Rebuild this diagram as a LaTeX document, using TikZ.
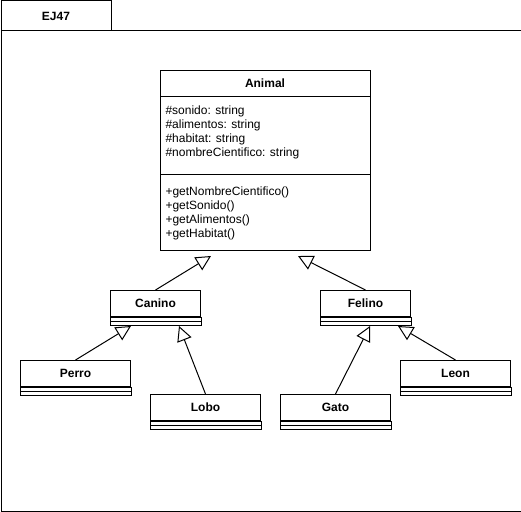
\documentclass[tikz,border=0pt]{standalone}
\usepackage{fontspec}
\setmainfont{Liberation Sans}
\usepackage{tikz}
\usetikzlibrary{%
	arrows.meta,%
	positioning
}

\newcommand{\umlfont}{\fontsize{12}{14}\selectfont}

\tikzset{
	classhead/.style={draw, minimum height=26pt, inner sep=0pt, anchor=north west, font=\umlfont\bfseries},
	classtext/.style={inner sep=0pt, anchor=north west, align=left, font=\umlfont},
	extends/.style={-{Triangle[open, length=15pt, width=15pt]}}
}

\begin{document}
\begin{tikzpicture}[x=1pt, y=-1pt, line width=1pt]
			\useasboundingbox (0,0) rectangle (521,511);
			
			% Draw the package frame with its tab
			\node[draw, minimum width=110pt, minimum height=30pt, inner sep=0pt, anchor=north west, font=\umlfont\bfseries] (tab) at (0.5,0.5) {EJ47};
			\node[draw, minimum width=520pt, minimum height=480pt, anchor=north west] (frame) at (0.5,30.5) {};
			
			% Draw the Animal class
			\node[draw, minimum width=210pt, minimum height=180pt, anchor=north west] (animal) at (160,70) {};
			\node[font=\umlfont\bfseries] (animalname) at (265,83) {Animal};
			\draw ([yshift=-26pt]animal.north west) -- ([yshift=-26pt]animal.north east);
			\draw ([yshift=-104pt]animal.north west) -- ([yshift=-104pt]animal.north east);
			\node[classtext] (attrs) at ([xshift=5pt, yshift=-35pt]animal.north west)
				{\#sonido: string\\\#alimentos: string\\\#habitat: string\\\#nombreCientifico: string};
			\node[classtext] (methods) at ([xshift=5pt, yshift=-116pt]animal.north west)
				{+getNombreCientifico()\\+getSonido()\\+getAlimentos()\\+getHabitat()};
			
			% Draw the subclasses with their empty compartments
			\foreach \nm/\lbl/\px/\py/\w in {canino/Canino/110/290/90pt, felino/Felino/320/290/90pt, perro/Perro/20/360/110pt, leon/Leon/400/360/110pt, lobo/Lobo/150/394/110pt, gato/Gato/280/394/110pt} {
				\node[classhead, minimum width=\w] (\nm) at (\px,\py) {\lbl};
				\draw (\nm.south west) rectangle ([yshift=-8pt]\nm.south east);
				\draw ([yshift=-4pt]\nm.south west) -- ([yshift=-4pt]\nm.south east);
			}
			
			% Points where the inheritance arrows end
			\coordinate (animalL) at ([xshift=51pt, yshift=-5pt]animal.south west);
			\coordinate (animalR) at ([xshift=-73pt, yshift=-5pt]animal.south east);
			\coordinate (caninoL) at ([xshift=21pt, yshift=-9pt]canino.south west);
			\coordinate (caninoR) at ([xshift=-22pt, yshift=-9pt]canino.south east);
			\coordinate (felinoL) at ([xshift=50pt, yshift=-9pt]felino.south west);
			\coordinate (felinoR) at ([xshift=-13pt, yshift=-9pt]felino.south east);
			
			% Draw the inheritance arrows
			\draw[extends] (canino.north) -- (animalL);
			\draw[extends] (felino.north) -- (animalR);
			\draw[extends] (perro.north) -- (caninoL);
			\draw[extends] (lobo.north) -- (caninoR);
			\draw[extends] (gato.north) -- (felinoL);
			\draw[extends] (leon.north) -- (felinoR);
		\end{tikzpicture}
\end{document}
